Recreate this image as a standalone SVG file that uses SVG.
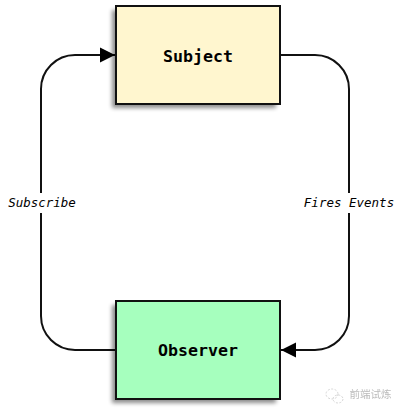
<svg xmlns="http://www.w3.org/2000/svg" width="401" height="413" viewBox="0 0 401 413">
<style>
.box{stroke:#111;stroke-width:2}
.shadow{fill:#000;opacity:.45;filter:url(#blur)}
.title{font:bold 16.6px "DejaVu Sans Mono","Liberation Mono",monospace;fill:#000;text-anchor:middle}
.edge{fill:none;stroke:#111;stroke-width:2}
.label{font:italic 12.5px "DejaVu Sans Mono","Liberation Mono",monospace;fill:#000;text-anchor:middle}
.bg{fill:#fff}
.mark{fill:none;stroke:#aaa;stroke-width:1;stroke-dasharray:2 1.5}
</style>
<defs>
<filter id="blur" x="-20%" y="-20%" width="140%" height="140%"><feGaussianBlur stdDeviation="2.2"/></filter>
<marker id="arrow" markerUnits="userSpaceOnUse" markerWidth="16" markerHeight="16" refX="15" refY="8" orient="auto"><path d="M0 0.5L15 8L0 15.5z" fill="#000"/></marker>
</defs>
<rect width="401" height="413" fill="#fff"/>
<g id="connectors">
<path class="edge" d="M116 350H75A34 34 0 0 1 41 316V89A34 34 0 0 1 75 55H115" marker-end="url(#arrow)"/>
<path class="edge" d="M280 55H315A34 34 0 0 1 349 89V316A34 34 0 0 1 315 350H281" marker-end="url(#arrow)"/>
<g id="label-subscribe"><rect class="bg" x="6" y="193" width="72" height="20"/><text class="label" x="42" y="207">Subscribe</text></g>
<g id="label-fires"><rect class="bg" x="303" y="193" width="93" height="20"/><text class="label" x="349" y="207">Fires Events</text></g>
</g>
<g id="subject">
<rect class="shadow" x="112" y="10" width="164" height="98"/>
<rect class="box" x="116" y="6" width="164" height="98" fill="#fff6cf"/>
<text class="title" x="198" y="62">Subject</text>
</g>
<g id="observer">
<rect class="shadow" x="112" y="305" width="164" height="98"/>
<rect class="box" x="116" y="301" width="164" height="98" fill="#a6ffbe"/>
<text class="title" x="198" y="356">Observer</text>
</g>
<g id="watermark" opacity=".5">
<ellipse class="mark" cx="332" cy="394" rx="6" ry="5"/>
<ellipse class="mark" cx="338" cy="399" rx="5" ry="4"/>
<text x="349.500" y="398" font-family="'Noto Sans CJK SC',sans-serif" font-size="10.5" fill="#777">前端试炼</text>
</g>
</svg>
